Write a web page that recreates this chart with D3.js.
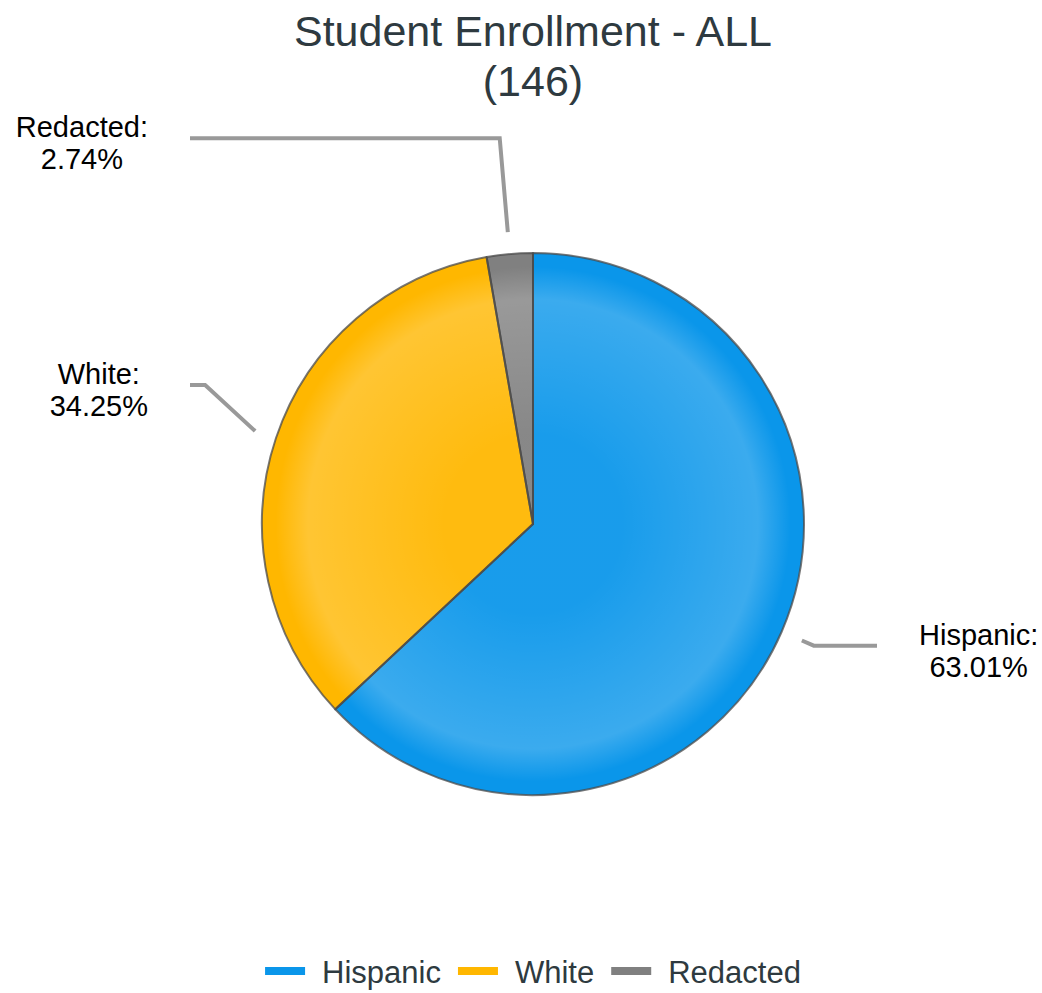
<!DOCTYPE html>
<html>
<head>
<meta charset="utf-8">
<script src="https://cdn.jsdelivr.net/npm/d3@7"></script>
<style>
    body { margin: 0; background: #fff; }
    text { font-family: "Liberation Sans", Arial, sans-serif; }
</style>
</head>
<body>
<div id="chart"></div>
<script>
//Chart data
const categories = ['Hispanic', 'White', 'Redacted']
const counts = [92, 50, 4]
const percents = [63.01, 34.25, 2.74]
const colors = ['#0a96ea', '#ffb700', '#808080']
const titleLines = ['Student Enrollment - ALL', '(146)']

//Layout
const width = 1042
const height = 993
const cx = 533
const cy = 524
const radius = 271
const labelLift = [0, 42, 81]

const svg = d3.select('#chart')
    .append('svg')
    .attr('width', width)
    .attr('height', height)

//Title
svg.append('g')
    .selectAll('text')
    .data(titleLines)
    .enter()
    .append('text')
    .attr('x', cx)
    .attr('y', (d, i) => 46 + i * 50)
    .attr('text-anchor', 'middle')
    .attr('font-size', 43)
    .attr('fill', '#2e3a40')
    .text(d => d)

//Bevel gradient (white overlay), in the pie group's coords
const defs = svg.append('defs')
const grad = defs.append('radialGradient')
    .attr('id', 'bevel')
    .attr('gradientUnits', 'userSpaceOnUse')
    .attr('cx', 0)
    .attr('cy', 0)
    .attr('r', radius)
grad.selectAll('stop')
    .data([[0, 0.06], [0.33, 0.06], [0.83, 0.2], [0.95, 0], [1, 0]])
    .enter()
    .append('stop')
    .attr('offset', d => d[0])
    .attr('stop-color', '#fff')
    .attr('stop-opacity', d => d[1])

//Pie
const slices = categories.map((c, i) => ({ name: c, value: counts[i], pct: percents[i], color: colors[i] }))
const pie = d3.pie().sort(null).value(d => d.value)
const arcs = pie(slices)
const arc = d3.arc().innerRadius(0).outerRadius(radius)

const groupPie = svg.append('g')
    .attr('transform', `translate(${cx}, ${cy})`)

groupPie.selectAll('.slice')
    .data(arcs)
    .enter()
    .append('path')
    .attr('class', 'slice')
    .attr('d', arc)
    .attr('fill', d => d.data.color)

groupPie.selectAll('.bevel')
    .data(arcs)
    .enter()
    .append('path')
    .attr('class', 'bevel')
    .attr('d', arc)
    .attr('fill', 'url(#bevel)')

groupPie.selectAll('.edge')
    .data(arcs)
    .enter()
    .append('path')
    .attr('class', 'edge')
    .attr('d', arc)
    .attr('fill', 'none')
    .attr('stroke', '#4a4a4a')
    .attr('stroke-opacity', 0.75)
    .attr('stroke-width', 2)
    .attr('stroke-linejoin', 'round')

//Labels with connectors
const groupLabels = svg.append('g')
arcs.forEach((d, i) => {
    const mid = (d.startAngle + d.endAngle) / 2
    const sx = Math.sin(mid)
    const sy = -Math.cos(mid)
    const left = sx < 0
    const start = [cx + (radius + 22) * sx, cy + (radius + 22) * sy]
    const lineY = cy + (radius + 35) * sy - labelLift[i]
    let dx = (lineY - start[1]) * sx / sy
    dx = Math.max(-50, Math.min(50, dx))
    const bend = [start[0] + dx, lineY]
    const endX = left ? cx - 343 : cx + 344

    groupLabels.append('path')
        .attr('d', d3.line()([start, bend, [endX, lineY]]))
        .attr('fill', 'none')
        .attr('stroke', '#999')
        .attr('stroke-width', 4)

    const lines = [d.data.name + ':', d.data.pct.toFixed(2) + '%']
    const label = groupLabels.append('g')
    const texts = label.selectAll('text')
        .data(lines)
        .enter()
        .append('text')
        .attr('font-size', 29)
        .attr('fill', '#000')
        .attr('text-anchor', 'middle')
        .attr('y', (t, j) => lineY - 1 + j * 32)
        .text(t => t)
    let boxW = 0
    texts.each(function () { boxW = Math.max(boxW, this.getComputedTextLength()) })
    const boxCenter = left ? endX - 42 - boxW / 2 : endX + 42 + boxW / 2
    texts.attr('x', boxCenter)
})

//Legend
const legend = svg.append('g')
const items = legend.selectAll('g')
    .data(slices)
    .enter()
    .append('g')
items.append('rect')
    .attr('width', 40)
    .attr('height', 8)
    .attr('y', -4)
    .attr('fill', d => d.color)
items.append('text')
    .attr('x', 57)
    .attr('y', 12)
    .attr('font-size', 31)
    .attr('fill', '#2e3a40')
    .text(d => d.name)
let offset = 0
const positions = []
items.each(function () {
    positions.push(offset)
    offset += 57 + this.querySelector('text').getComputedTextLength() + 17
})
const legendW = offset - 17
items.attr('transform', (d, i) => `translate(${positions[i]}, 0)`)
legend.attr('transform', `translate(${cx - legendW / 2}, 971)`)
</script>
</body>
</html>
